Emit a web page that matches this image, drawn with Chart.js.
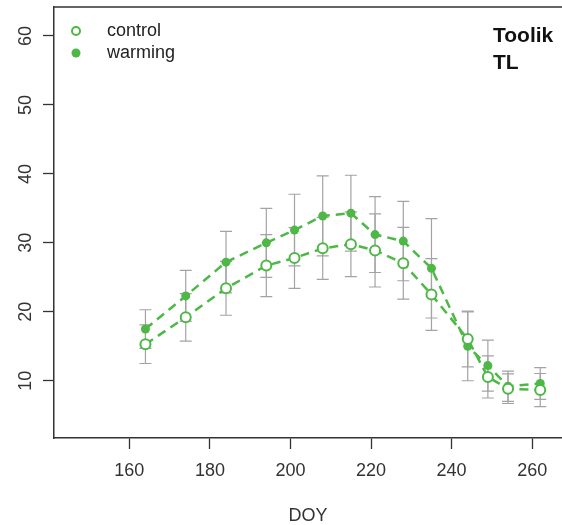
<!DOCTYPE html>
<html>
<head>
<meta charset="utf-8">
<script src="https://cdn.jsdelivr.net/npm/chart.js@4/dist/chart.umd.min.js"></script>
<style>
  body { margin: 0; background: #fff; }
  #wrap { width: 562px; height: 525px; }
</style>
</head>
<body>
<div id="wrap"><canvas id="c" width="562" height="525"></canvas></div>
<script>
/* values */
var doy = [164, 174, 184, 194, 201, 208, 215, 221, 228, 235, 244, 249, 254, 262];
var control = [15.3, 19.2, 23.4, 26.7, 27.8, 29.2, 29.8, 28.9, 27.05, 22.5, 16.05, 10.55, 8.85, 8.65];
var warming = [17.5, 22.3, 27.2, 30.0, 31.85, 33.9, 34.3, 31.2, 30.25, 26.3, 15.0, 12.2, 9.2, 9.6];
var controlErr = [2.8, 3.45, 3.9, 4.5, 4.4, 4.5, 4.7, 5.3, 5.2, 5.2, 4.05, 3.05, 2.15, 2.4];
var warmingErr = [2.8, 3.7, 4.45, 5.0, 5.2, 5.8, 5.5, 5.5, 5.75, 7.2, 5.0, 3.7, 2.2, 2.3];
var xTicks = [160, 180, 200, 220, 240, 260];
var yTicks = [10, 20, 30, 40, 50, 60];
var siteLabel = ['Toolik', 'TL'];

var GREEN = '#4db846';
var AXIS = '#333333';
var FONT = '"Liberation Sans", Arial, Helvetica, sans-serif';

function pts(ys) {
    return doy.map(function (d, i) { return { x: d, y: ys[i] }; });
}

/* gray error bars under the points */
var errorBars = {
    id: 'errorBars',
    beforeDatasetsDraw: function (chart) {
        var ctx = chart.ctx, xs = chart.scales.x, ys = chart.scales.y;
        ctx.save();
        ctx.strokeStyle = '#a3a3a3';
        ctx.lineWidth = 1.2;
        [[control, controlErr], [warming, warmingErr]].forEach(function (s) {
            doy.forEach(function (d, i) {
                var px = xs.getPixelForValue(d);
                var top = ys.getPixelForValue(s[0][i] + s[1][i]);
                var bot = ys.getPixelForValue(s[0][i] - s[1][i]);
                ctx.beginPath();
                ctx.moveTo(px, top); ctx.lineTo(px, bot);
                ctx.moveTo(px - 6, top); ctx.lineTo(px + 6, top);
                ctx.moveTo(px - 6, bot); ctx.lineTo(px + 6, bot);
                ctx.stroke();
            });
        });
        ctx.restore();
    }
};

/* top frame line, rotated y labels, legend and site label */
var decorations = {
    id: 'decorations',
    afterDraw: function (chart) {
        var ctx = chart.ctx, area = chart.chartArea, ys = chart.scales.y;
        ctx.save();
        ctx.strokeStyle = AXIS;
        ctx.lineWidth = 1.5;
        ctx.beginPath();
        ctx.moveTo(area.left, area.top);
        ctx.lineTo(chart.width, area.top);
        ctx.stroke();

        ctx.fillStyle = AXIS;
        ctx.font = '18px ' + FONT;
        ctx.textAlign = 'center';
        ctx.textBaseline = 'middle';
        yTicks.forEach(function (v) {
            ctx.save();
            ctx.translate(25, ys.getPixelForValue(v));
            ctx.rotate(-Math.PI / 2);
            ctx.fillText(String(v), 0, 1);
            ctx.restore();
        });

        // legend
        ctx.textAlign = 'left';
        ctx.fillStyle = '#222';
        ctx.fillText('control', 107, 31);
        ctx.fillText('warming', 107, 53);
        ctx.lineWidth = 2;
        ctx.strokeStyle = GREEN;
        ctx.beginPath();
        ctx.arc(76, 31, 4, 0, Math.PI * 2);
        ctx.stroke();
        ctx.fillStyle = GREEN;
        ctx.beginPath();
        ctx.arc(76, 53, 4.5, 0, Math.PI * 2);
        ctx.fill();

        // site label
        ctx.fillStyle = '#111';
        ctx.font = 'bold 21px ' + FONT;
        ctx.fillText(siteLabel[0], 493, 36);
        ctx.fillText(siteLabel[1], 493, 63);
        ctx.restore();
    }
};

var gridOpts = {
    drawOnChartArea: false,
    drawTicks: true,
    tickLength: 11,
    tickColor: AXIS,
    tickWidth: 1.3
};

new Chart(document.getElementById('c'), {
    type: 'scatter',
    data: {
        datasets: [
            {
                label: 'control',
                data: pts(control),
                showLine: true,
                borderColor: GREEN,
                borderWidth: 2.5,
                borderDash: [9, 6],
                pointStyle: 'circle',
                pointRadius: 5,
                pointBorderWidth: 2,
                pointBackgroundColor: '#ffffff',
                pointBorderColor: GREEN
            },
            {
                label: 'warming',
                data: pts(warming),
                showLine: true,
                borderColor: GREEN,
                borderWidth: 2.5,
                borderDash: [9, 6],
                pointStyle: 'circle',
                pointRadius: 4.5,
                pointBorderWidth: 0,
                pointBackgroundColor: GREEN,
                pointBorderColor: GREEN
            }
        ]
    },
    options: {
        responsive: false,
        animation: false,
        layout: { autoPadding: false, padding: { top: 7, left: 0, right: 0, bottom: 0 } },
        plugins: { legend: { display: false }, tooltip: { enabled: false } },
        scales: {
            x: {
                type: 'linear',
                min: 141.3,
                max: 267.4,
                afterBuildTicks: function (s) { s.ticks = xTicks.map(function (v) { return { value: v }; }); },
                afterFit: function (s) { s.height = 87; s.paddingRight = 0; s.paddingLeft = 0; },
                grid: gridOpts,
                border: { color: AXIS, width: 1.5 },
                ticks: {
                    color: AXIS,
                    font: { family: FONT, size: 18 },
                    padding: 11,
                    maxRotation: 0,
                    autoSkip: false
                },
                title: {
                    display: true,
                    text: 'DOY',
                    color: AXIS,
                    font: { family: FONT, size: 18, lineHeight: 1 },
                    padding: { top: 0, bottom: 0 }
                }
            },
            y: {
                type: 'linear',
                min: 1.7,
                max: 64.2,
                afterBuildTicks: function (s) { s.ticks = yTicks.map(function (v) { return { value: v }; }); },
                afterFit: function (s) { s.width = 54; s.paddingTop = 0; s.paddingBottom = 0; },
                grid: gridOpts,
                border: { color: AXIS, width: 1.5 },
                ticks: { display: false }
            }
        }
    },
    plugins: [errorBars, decorations]
});
</script>
</body>
</html>
